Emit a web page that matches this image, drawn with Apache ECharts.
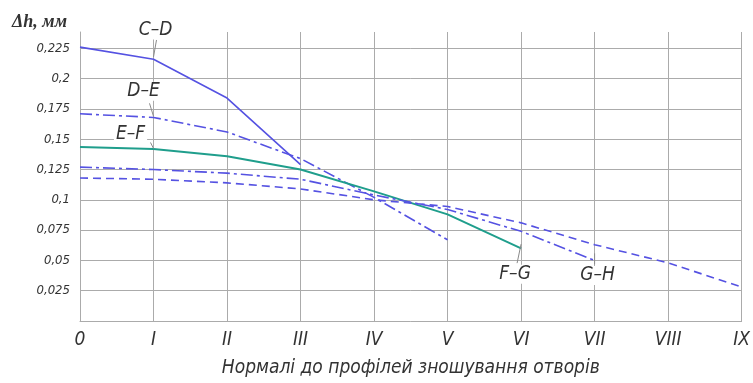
<!DOCTYPE html>
<html>
<head>
<meta charset="utf-8">
<script src="https://cdn.jsdelivr.net/npm/echarts@6/dist/echarts.min.js"></script>
<style>
  html, body { margin: 0; padding: 0; background: #fff; }
  #chart { width: 753px; height: 383px; }
</style>
</head>
<body>
<div id="chart"></div>
<script>
// нормалі (категорії осі X)
const categories = ['0', 'I', 'II', 'III', 'IV', 'V', 'VI', 'VII', 'VIII', 'IX'];

// поділки осі Y
const yTickValues = [0.025, 0.05, 0.075, 0.1, 0.125, 0.15, 0.175, 0.2, 0.225];
const yTickLabels = ['0,025', '0,05', '0,075', '0,1', '0,125', '0,15', '0,175', '0,2', '0,225'];

// Δh по ділянках
const seriesNames = ['C–D', 'D–E', 'E–F', 'F–G', 'G–H'];
const cdValues = [0.226, 0.216, 0.184, 0.129];
const deValues = [0.171, 0.168, 0.156, 0.134, 0.102, 0.067];
const efValues = [0.1435, 0.142, 0.136, 0.125, 0.107, 0.088, 0.060];
const fgValues = [0.127, 0.125, 0.122, 0.117, 0.104, 0.092, 0.074, 0.050];
const ghValues = [0.118, 0.117, 0.114, 0.109, 0.100, 0.0945, 0.081, 0.063, 0.048, 0.028];

const FONT = "'Liberation Sans Narrow', 'DejaVu Sans Condensed', 'Roboto', sans-serif";
const BLUE = '#5552e2';
const TEAL = '#1f9e8c';
const GRID = '#ababab';

const chart = echarts.init(document.getElementById('chart'));

const lineSeries = (name, data, color, type, width) => ({
    name,
    type: 'line',
    data,
    symbol: 'none',
    smooth: false,
    lineStyle: { color, width, type },
    z: 3,
});

chart.setOption({
    animation: false,
    backgroundColor: '#fff',
    title: {
        text: 'Δh, мм',
        left: 7,
        top: 8,
        textStyle: {
            fontFamily: "'Liberation Serif', serif",
            fontStyle: 'italic',
            fontWeight: 'bold',
            fontSize: 18,
            color: '#333',
        },
    },
    grid: { left: 80, right: 8, top: 32, bottom: 59 },
    xAxis: {
        type: 'category',
        data: categories,
        boundaryGap: false,
        name: 'Нормалі до профілей зношування отворів',
        nameLocation: 'middle',
        nameGap: 38,
        nameTextStyle: { fontFamily: FONT, fontStyle: 'italic', fontSize: 19, color: '#333' },
        axisLine: { lineStyle: { color: GRID, width: 1 } },
        axisTick: { show: false },
        axisLabel: { fontFamily: FONT, fontStyle: 'italic', fontSize: 19, color: '#333', margin: 10 },
        splitLine: { show: true, interval: 0, lineStyle: { color: GRID, width: 1 } },
    },
    yAxis: {
        type: 'value',
        min: 0,
        max: 0.2385,
        axisLine: { show: true, lineStyle: { color: GRID, width: 1 } },
        axisTick: { show: false, customValues: yTickValues },
        axisLabel: {
            customValues: yTickValues,
            fontFamily: FONT,
            fontStyle: 'italic',
            fontSize: 13,
            color: '#333',
            margin: 10,
            formatter: v => {
                const i = yTickValues.findIndex(t => Math.abs(t - v) < 1e-6);
                return i >= 0 ? yTickLabels[i] : '';
            },
        },
        splitLine: { show: true, lineStyle: { color: GRID, width: 1 } },
    },
    series: [
        lineSeries(seriesNames[0], cdValues, BLUE, 'solid', 1.6),
        lineSeries(seriesNames[1], deValues, BLUE, [12, 4, 3, 4], 1.6),
        lineSeries(seriesNames[2], efValues, TEAL, 'solid', 2),
        lineSeries(seriesNames[3], fgValues, BLUE, [12, 4, 3, 4], 1.6),
        lineSeries(seriesNames[4], ghValues, BLUE, [8, 5], 1.6),
    ],
});

// підписи ділянок з виносками: точка на кривій (індекс по X) + зсув тексту
const allValues = [cdValues, deValues, efValues, fgValues, ghValues];
const notes = [
    { s: 0, at: 0.81, dx: 2, dy: -27, lx: 3, ly: -17 },
    { s: 1, at: 0.70, dx: -10, dy: -25, lx: -4, ly: -13 },
    { s: 2, at: 0.76, dx: -23, dy: -14, lx: -3, ly: -6 },
    { s: 3, at: 6.44, dx: -6, dy: 30, lx: -4, ly: 19 },
    { s: 4, at: 7.48, dx: 3, dy: 22, lx: 0, ly: 11 },
];

const graphics = [];
notes.forEach(n => {
    const vals = allValues[n.s];
    const i = Math.floor(n.at);
    const f = n.at - i;
    const v = vals[i] + (vals[i + 1] - vals[i]) * f;
    const p = chart.convertToPixel({ gridIndex: 0 }, [n.at, v]);
    graphics.push({
        type: 'line',
        shape: { x1: p[0], y1: p[1], x2: p[0] + n.lx, y2: p[1] + n.ly },
        style: { stroke: '#8a8a8a', lineWidth: 1 },
        z: 10,
    });
    graphics.push({
        type: 'text',
        x: p[0] + n.dx,
        y: p[1] + n.dy,
        style: {
            text: seriesNames[n.s],
            font: `italic 19px ${FONT}`,
            fill: '#333',
            align: 'center',
            verticalAlign: 'middle',
            backgroundColor: '#fff',
            padding: [0, 2],
        },
        z: 11,
    });
});
chart.setOption({ graphic: graphics });
</script>
</body>
</html>
